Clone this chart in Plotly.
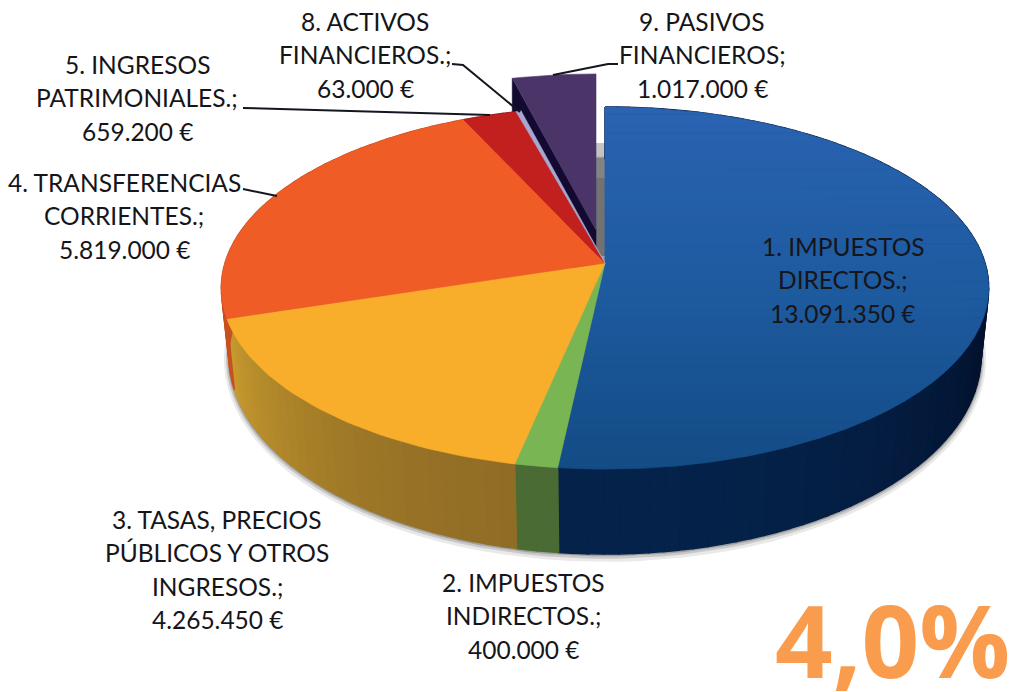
import math
import plotly.graph_objects as go

# ---- data ----
names = [
    ["1. IMPUESTOS", "DIRECTOS.;"],
    ["2. IMPUESTOS", "INDIRECTOS.;"],
    ["3. TASAS, PRECIOS", "PÚBLICOS Y OTROS", "INGRESOS.;"],
    ["4. TRANSFERENCIAS", "CORRIENTES.;"],
    ["5. INGRESOS", "PATRIMONIALES.;"],
    ["8. ACTIVOS", "FINANCIEROS.;"],
    ["9. PASIVOS", "FINANCIEROS;"],
]
values = [13091350, 400000, 4265450, 5819000, 659200, 63000, 1017000]
top_colors = ["#1d5a9f", "#7ab554", "#f9ae2b", "#f05c26", "#c2201f", "#a9a7d0", "#4b3568"]
wall_near = ["#04224a", "#4a6b33", "#8e6b25", "#b8451a", "#8a1a1a", "#6a6a90", "#120a30"]
wall_far = ["#03122e", "#4a6b33", "#c99b2e", "#c8501f", "#8a1a1a", "#6a6a90", "#120a30"]
exploded = [(0, 0), (0, 0), (0, 0), (0, 0), (0, 0), (0, 0), (-9, -33)]
label_anchor = [(843, 246), (523, 582), (217, 519), (124, 182), (137, 64), (365, 21), (702, 21)]
badge = "4,0%"

# ---- projection of the pie ----
CX, CY, A, B, K = 605, 263, 380, 177.6, 0.138
BX, BCY, BB = 0.98, 329, 194


def rim(t, dx=0, dy=0):
    X, Y = math.sin(t), math.cos(t)
    w = 1 + K * Y
    return CX + A * X / w + dx, CY - B * Y / w + dy


def low(t, dx=0, dy=0, grow=0):
    X, Y = math.sin(t), math.cos(t)
    w = 1 + K * Y
    return CX + (A * BX + grow) * X / w + dx, BCY - (BB + grow) * Y / w + dy


def mix(c1, c2, f):
    a = [int(c1[i:i + 2], 16) for i in (1, 3, 5)]
    b = [int(c2[i:i + 2], 16) for i in (1, 3, 5)]
    return "#%02x%02x%02x" % tuple(round(p + (q - p) * f) for p, q in zip(a, b))


def clip(poly, y0, y1):
    def half(pts, inside, ycut):
        out = []
        for i, p in enumerate(pts):
            q = pts[(i + 1) % len(pts)]
            ip, iq = inside(p), inside(q)
            if ip:
                out.append(p)
            if ip != iq:
                f = (ycut - p[1]) / (q[1] - p[1])
                out.append((p[0] + (q[0] - p[0]) * f, ycut))
        return out
    r = half(poly, lambda p: p[1] >= y0, y0)
    if r:
        r = half(r, lambda p: p[1] <= y1, y1)
    return r


fig = go.Figure()


def add(poly, color, lw=0.6):
    xs = [p[0] for p in poly] + [poly[0][0]]
    ys = [p[1] for p in poly] + [poly[0][1]]
    fig.add_trace(go.Scatter(x=xs, y=ys, mode="lines", fill="toself", fillcolor=color,
                             line=dict(color=color, width=lw), hoverinfo="skip", showlegend=False))


total = sum(values)
edges = [0]
for v in values:
    edges.append(edges[-1] + v / total * 2 * math.pi)


def arc(a0, a1, step=math.radians(1.5)):
    n = max(2, int((a1 - a0) / step) + 1)
    return [a0 + (a1 - a0) * i / (n - 1) for i in range(n)]


# soft shadow round the lower edge
for g, alpha in [(5, 0.12), (3, 0.2), (1.5, 0.3)]:
    add([low(t, 0, g * 0.4, g) for t in arc(0, 2 * math.pi, math.radians(3))], f"rgba(70,70,70,{alpha})", 0)

# grey shade behind the exploded slice
for y_top, col in [(143, "#c4c4c4"), (178, "#a2a2a2")]:
    fig.add_shape(type="rect", x0=595, x1=606, y0=y_top, y1=256, fillcolor=col, line_width=0, layer="below")

# inner wall of the exploded slice
i = len(values) - 1
dx, dy = exploded[i]
c0 = rim(edges[i], dx, dy)
apex = (CX + dx, CY + dy)
add([c0, apex, (apex[0], apex[1] + 80), (c0[0], c0[1] + 80)], wall_near[i])

# outer walls
for i in range(len(values) - 1):
    ts = arc(edges[i], edges[i + 1], math.radians(2))
    for a, b in zip(ts[:-1], ts[1:]):
        mid = (a + b) / 2
        f = min(1, max(0, (math.cos(mid) + 1) / 0.7))
        add([rim(a), rim(b), low(b), low(a)], mix(wall_near[i], wall_far[i], f), 1.5)

# top faces
for i, col in enumerate(top_colors):
    dx, dy = exploded[i]
    poly = [(CX + dx, CY + dy)] + [rim(t, dx, dy) for t in arc(edges[i], edges[i + 1])]
    if i == 0:
        steps = 40
        for s in range(steps):
            y0 = 105 + (475 - 105) * s / steps
            y1 = 105 + (475 - 105) * (s + 1) / steps
            part = clip(poly, y0, y1)
            if part:
                f = s / (steps - 1)
                c = mix("#2a63b2", "#1d5a9f", f / 0.5) if f < 0.5 else mix("#1d5a9f", "#134b85", (f - 0.5) / 0.5)
                add(part, c, 0.8)
    else:
        add(poly, col)

# leader lines
leaders = [
    [(243, 189), (277, 196)],
    [(243, 108), (490, 115)],
    [(452, 64), (463, 65), (520, 112)],
    [(553, 75), (608, 64), (618, 64)],
]
for pts in leaders:
    path = "M " + " L ".join(f"{x},{y}" for x, y in pts)
    fig.add_shape(type="path", path=path, line=dict(color="#15151f", width=2))


def fmt(v):
    return f"{v:,}".replace(",", ".") + "\u202f€"


LINE = 33.5
for nm, v, (x, y) in zip(names, values, label_anchor):
    for j, t in enumerate(nm + [fmt(v)]):
        fig.add_annotation(x=x, y=y + j * LINE, text=t, showarrow=False, xanchor="center", yanchor="middle",
                           font=dict(family="Lato", size=24.5, color="#15151a"))

fig.add_annotation(x=892, y=639, text=f"<b>{badge}</b>", showarrow=False, xanchor="center", yanchor="middle",
                   font=dict(family="Open Sans", size=101, color="#f99c4e"))

fig.update_layout(
    width=1013, height=692, margin=dict(l=0, r=0, t=0, b=0),
    paper_bgcolor="white", plot_bgcolor="white", showlegend=False,
    xaxis=dict(range=[0, 1013], visible=False, fixedrange=True),
    yaxis=dict(range=[692, 0], visible=False, fixedrange=True),
)
fig.write_html("out.html", config=dict(displayModeBar=False),
               post_script="document.body.style.margin='0';document.body.style.overflow='hidden';")
